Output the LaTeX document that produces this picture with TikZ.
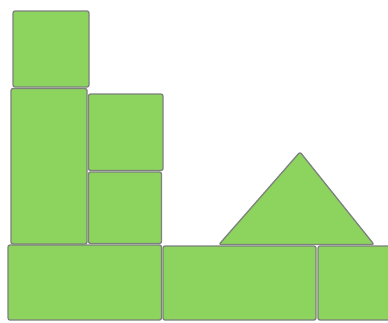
\documentclass[tikz,border=0pt]{standalone}
\begin{document}
\begin{tikzpicture}[x=1pt,y=-1pt,
  tile/.style={fill=tilegreen,draw=edgegray,line width=1.3pt,rounded corners=2pt,line join=round}]
\definecolor{tilegreen}{RGB}{141,212,94}
\definecolor{edgegray}{RGB}{125,128,125}
\useasboundingbox (0,0) rectangle (388,322);
\clip (0,0) rectangle (388,322);
% top square
\draw[tile] (13,11) rectangle (89,87);
% left tall rectangle
\draw[tile] (11,88.5) rectangle (87,244);
% middle upper square
\draw[tile] (88.5,94) rectangle (163,170.5);
% middle lower square
\draw[tile] (88.5,172) rectangle (161.5,243.5);
% bottom left rectangle
\draw[tile] (8,245) rectangle (161.5,320);
% bottom middle rectangle
\draw[tile] (163,246) rectangle (316,320);
% bottom right rectangle
\draw[tile] (318,246) rectangle (395,320);
% triangle
\draw[tile] (219,244.5) -- (300,152) -- (374,244.5) -- cycle;
\end{tikzpicture}
\end{document}
